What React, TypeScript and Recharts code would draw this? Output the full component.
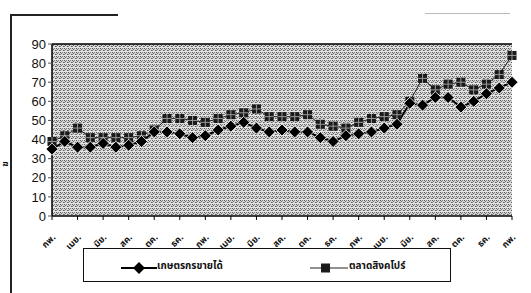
import { LineChart, Line, XAxis, YAxis, CartesianGrid, ReferenceLine } from 'recharts';

// monthly categories, Feb (year 1) to Feb (year 4)
const months = [
  'กพ.', 'มีค.', 'เมย.', 'พค.', 'มิย.', 'กค.', 'สค.', 'กย.', 'ตค.', 'พย.', 'ธค.', 'มค.',
  'กพ.', 'มีค.', 'เมย.', 'พค.', 'มิย.', 'กค.', 'สค.', 'กย.', 'ตค.', 'พย.', 'ธค.', 'มค.',
  'กพ.', 'มีค.', 'เมย.', 'พค.', 'มิย.', 'กค.', 'สค.', 'กย.', 'ตค.', 'พย.', 'ธค.', 'มค.',
  'กพ.',
];

// เกษตรกรขายได้ (diamonds)
const farmerPrice = [
  35, 39, 36, 36, 38, 36, 37, 39, 44, 44, 43, 41,
  42, 45, 47, 49, 46, 44, 45, 44, 44, 41, 39, 42,
  43, 44, 46, 48, 59, 58, 62, 62, 57, 60, 64, 67,
  70,
];

// ตลาดสิงคโปร์ (squares)
const singaporePrice = [
  39, 42, 46, 41, 41, 41, 41, 42, 45, 51, 51, 50,
  49, 51, 53, 54, 56, 52, 52, 52, 53, 48, 47, 46,
  49, 51, 52, 53, 60, 72, 66, 69, 70, 66, 69, 74,
  84,
];

const yTicks = [0, 10, 20, 30, 40, 50, 60, 70, 80, 90];

const data = months.map((m, i) => ({ month: m, farmer: farmerPrice[i], singapore: singaporePrice[i] }));

const THAI = "'Noto Sans Thai', 'Noto Sans', 'DejaVu Sans', sans-serif";

const Diamond = (props: any) => {
  const { cx, cy, index } = props;
  if (cx == null || cy == null) return <g key={`d-${index}`} />;
  const r = 6;
  return (
    <polygon
      key={`d-${index}`}
      points={`${cx},${cy - r} ${cx + r},${cy} ${cx},${cy + r} ${cx - r},${cy}`}
      fill="#000"
      stroke="#fff"
      strokeWidth={0.8}
    />
  );
};

const Square = (props: any) => {
  const { cx, cy, index } = props;
  if (cx == null || cy == null) return <g key={`s-${index}`} />;
  const s = 9;
  return (
    <g key={`s-${index}`}>
      <rect x={cx - s / 2} y={cy - s / 2} width={s} height={s} fill="#1a1a1a" />
      <line x1={cx - s / 2} x2={cx + s / 2} y1={cy} y2={cy} stroke="#9a9a9a" strokeWidth={1} />
      <line x1={cx} x2={cx} y1={cy - s / 2} y2={cy + s / 2} stroke="#9a9a9a" strokeWidth={1} />
    </g>
  );
};

const MonthTick = (props: any) => {
  const { x, y, payload } = props;
  return (
    <text
      x={x + 4}
      y={y + 16}
      transform={`rotate(-45, ${x + 4}, ${y + 16})`}
      textAnchor="end"
      fontSize={9}
      fontWeight="bold"
      fontFamily={THAI}
      fill="#111"
    >
      {payload.value}
    </text>
  );
};

export default function App() {
  return (
    <div style={{ position: 'absolute', left: 0, top: 0, width: 531, height: 293, background: '#fff', overflow: 'hidden' }}>
      {/* scanned page frame */}
      <div style={{ position: 'absolute', left: 10, top: 14, width: 2, height: 279, background: '#222' }} />
      <div style={{ position: 'absolute', left: 10, top: 14, width: 108, height: 2, background: '#222' }} />
      <div style={{ position: 'absolute', left: 425, top: 13, width: 85, height: 1, background: '#bbb' }} />

      <div
        style={{
          position: 'absolute', left: 1, top: 158, width: 9, height: 12,
          fontFamily: THAI, fontSize: 8, fontWeight: 'bold', color: '#111',
          transform: 'rotate(-90deg)', lineHeight: '12px', textAlign: 'center',
        }}
      >
        ฆ
      </div>

      <LineChart width={531} height={293} data={data} margin={{ top: 44, right: 19, left: 0, bottom: 37 }}>
        <defs>
          <pattern id="scanGray" width="4" height="4" patternUnits="userSpaceOnUse">
            <rect width="4" height="4" fill="#d6d6d6" />
            <rect x="0" y="0" width="1" height="1" fill="#5a5a5a" />
            <rect x="2" y="0" width="1" height="1" fill="#808080" />
            <rect x="1" y="1" width="1" height="1" fill="#6a6a6a" />
            <rect x="3" y="2" width="1" height="1" fill="#5a5a5a" />
            <rect x="0" y="2" width="1" height="1" fill="#888" />
            <rect x="0" y="3" width="4" height="1" fill="#e6e6e6" />
          </pattern>
        </defs>
        <CartesianGrid fill="url(#scanGray)" horizontal={false} vertical={false} />
        <XAxis
          dataKey="month"
          interval={1}
          height={40}
          tick={<MonthTick />}
          tickSize={4}
          axisLine={{ stroke: '#000', strokeWidth: 1.5 }}
          tickLine={{ stroke: '#000' }}
        />
        <YAxis
          yAxisId="left"
          width={52}
          domain={[0, 90]}
          ticks={yTicks}
          interval={0}
          tickSize={4}
          tick={{ fontSize: 13, fill: '#111', fontFamily: "'Liberation Sans', Arial, sans-serif" }}
          axisLine={{ stroke: '#000', strokeWidth: 1.5 }}
          tickLine={{ stroke: '#555' }}
        />
        <YAxis
          yAxisId="right"
          orientation="right"
          width={0}
          domain={[0, 90]}
          tick={false}
          tickLine={false}
          axisLine={{ stroke: '#000', strokeWidth: 1.5 }}
        />
        <ReferenceLine yAxisId="left" y={90} stroke="#000" strokeWidth={1.5} />
        <Line
          yAxisId="left"
          type="linear"
          dataKey="singapore"
          stroke="#222"
          strokeWidth={1}
          dot={Square}
          activeDot={false}
          isAnimationActive={false}
        />
        <Line
          yAxisId="left"
          type="linear"
          dataKey="farmer"
          stroke="#000"
          strokeWidth={2}
          dot={Diamond}
          activeDot={false}
          isAnimationActive={false}
        />
      </LineChart>

      {/* legend box */}
      <div
        style={{
          position: 'absolute', left: 83, top: 248, width: 368, height: 34,
          border: '1.5px solid #111', boxSizing: 'border-box', background: '#fff',
        }}
      >
        <svg width={40} height={12} style={{ position: 'absolute', left: 37, top: 13 }}>
          <line x1={0} x2={36} y1={6} y2={6} stroke="#000" strokeWidth={2} />
          <polygon points="18,0 24,6 18,12 12,6" fill="#000" />
        </svg>
        <span
          style={{
            position: 'absolute', left: 73, top: 10, fontFamily: THAI, fontSize: 10,
            fontWeight: 'bold', color: '#111', whiteSpace: 'nowrap', lineHeight: '14px',
          }}
        >
          เกษตรกรขายได้
        </span>
        <svg width={40} height={12} style={{ position: 'absolute', left: 226, top: 13 }}>
          <line x1={0} x2={38} y1={6} y2={6} stroke="#222" strokeWidth={1} />
          <rect x={11} y={1.5} width={9} height={9} fill="#1a1a1a" />
        </svg>
        <span
          style={{
            position: 'absolute', left: 265, top: 10, fontFamily: THAI, fontSize: 10,
            fontWeight: 'bold', color: '#111', whiteSpace: 'nowrap', lineHeight: '14px',
          }}
        >
          ตลาดสิงคโปร์
        </span>
      </div>
    </div>
  );
}
